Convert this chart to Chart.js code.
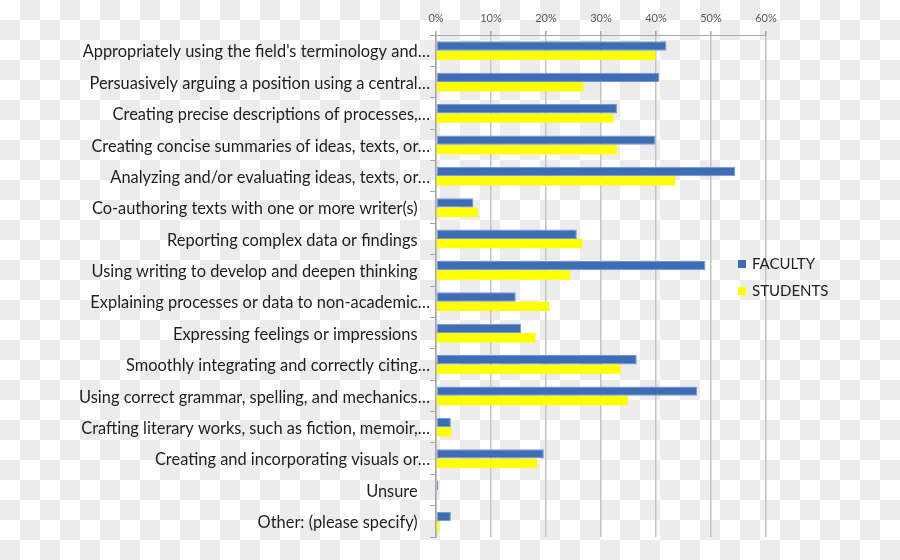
<!DOCTYPE html>
<html>
<head>
<meta charset="utf-8">
<script src="https://cdn.jsdelivr.net/npm/chart.js@4.4.1/dist/chart.umd.min.js"></script>
<style>
  html, body { margin: 0; padding: 0; }
  body {
    width: 900px; height: 560px; overflow: hidden; position: relative;
    background-color: #fff;
    background-image: conic-gradient(#ececec 25%, #fff 0 50%, #ececec 0 75%, #fff 0);
    background-size: 40px 40px;
    font-family: Lato, sans-serif;
  }
  #wrap { position: absolute; left: 0; top: 0; width: 900px; height: 560px; }
  .legend { position: absolute; left: 738px; top: 252px; font-size: 15px; color: #222; }
  .legend div { height: 27px; line-height: 22px; white-space: nowrap; }
  .legend span { display: inline-block; width: 8px; height: 8px; margin-right: 6px; vertical-align: 1px; }
</style>
</head>
<body>
<div id="wrap"><canvas id="chart" width="900" height="560"></canvas></div>
<div class="legend">
  <div><span style="background:#3f6db5"></span>FACULTY</div>
  <div><span style="background:#ffff00"></span>STUDENTS</div>
</div>
<script>
// categories as shown on the axis (Excel truncated the long ones)
const categories = [
  "Appropriately using the field's terminology and\u2026",
  "Persuasively arguing a position using a central\u2026",
  "Creating precise descriptions of processes,\u2026",
  "Creating concise summaries of ideas, texts, or\u2026",
  "Analyzing and/or evaluating ideas, texts, or\u2026",
  "Co-authoring texts with one or more writer(s)\u2002 ",
  "Reporting complex data or findings\u2002 ",
  "Using writing to develop and deepen thinking\u2002 ",
  "Explaining processes or data to non-academic\u2026",
  "Expressing feelings or impressions\u2002 ",
  "Smoothly integrating and correctly citing\u2026",
  "Using correct grammar, spelling, and mechanics\u2026",
  "Crafting literary works, such as fiction, memoir,\u2026",
  "Creating and incorporating visuals or\u2026",
  "Unsure\u2002 ",
  "Other: (please specify)\u2002 "
];

// percent of respondents
const faculty  = [41.9, 40.6, 32.9, 39.9, 54.4, 6.8, 25.6, 49.0, 14.5, 15.5, 36.5, 47.5, 2.7, 19.6, 0.4, 2.7];
const students = [39.9, 26.8, 32.3, 32.9, 43.5, 7.6, 26.6, 24.4, 20.6, 18.1, 33.6, 34.9, 2.8, 18.4, 0, 0.6];

const xTicks = [0, 10, 20, 30, 40, 50, 60];

new Chart(document.getElementById('chart'), {
  type: 'bar',
  data: {
    labels: categories,
    datasets: [
      {
        label: 'FACULTY',
        data: faculty,
        backgroundColor: '#3f6db5',
        borderColor: '#6f98d6',
        borderWidth: 1,
        borderSkipped: false,
      },
      {
        label: 'STUDENTS',
        data: students,
        backgroundColor: '#ffff00',
        borderWidth: 0,
      },
    ],
  },
  options: {
    indexAxis: 'y',
    responsive: false,
    animation: false,
    devicePixelRatio: 1,
    categoryPercentage: 0.6,
    barPercentage: 1,
    layout: { padding: { left: 0, top: 0, right: 134, bottom: 23 } },
    plugins: { legend: { display: false }, tooltip: { enabled: false } },
    scales: {
      x: {
        position: 'top',
        min: 0,
        max: 60,
        afterBuildTicks: (scale) => { scale.ticks = xTicks.map(v => ({ value: v })); },
        afterFit: (scale) => { scale.height = 35; },
        ticks: {
          padding: 6,
          color: '#595959',
          font: { family: 'Lato', size: 11 },
          callback: (v) => v + '%',
        },
        grid: { color: '#c4c4c4', lineWidth: 1.5, tickLength: 4, tickColor: '#a6a6a6' },
        border: { color: '#a6a6a6', width: 1 },
      },
      y: {
        afterFit: (scale) => { scale.width = 436; },
        ticks: {
          padding: 0,
          labelOffset: 1.5,
          color: '#1e1e1e',
          autoSkip: false,
          font: { family: 'Lato', size: 16.4 },
        },
        grid: { drawOnChartArea: false, tickLength: 6, color: '#a6a6a6' },
        border: { color: '#a6a6a6', width: 1.5 },
      },
    },
  },
});
</script>
</body>
</html>
